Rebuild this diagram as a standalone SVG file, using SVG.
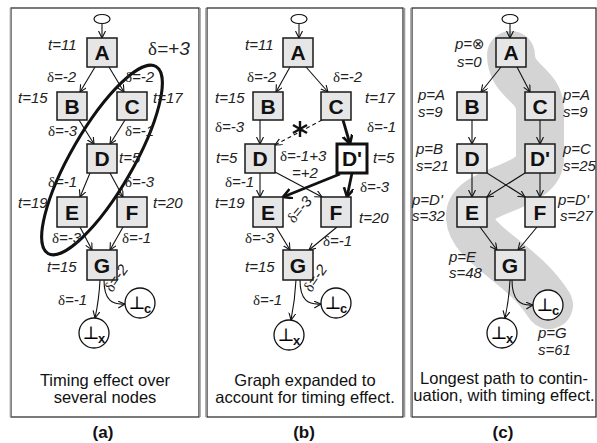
<svg xmlns="http://www.w3.org/2000/svg" width="597" height="443" viewBox="0 0 597 443">
  <style>
    .frame { fill: none; stroke: #222; stroke-width: 1.2; }
    .shade { stroke: #9a9a9a; stroke-width: 1.6; }
    .node { fill: #e6e6e6; stroke: #1a1a1a; stroke-width: 1.5; }
    .nodeT { fill: #ffffff; stroke: #111; stroke-width: 3; }
    .nl { font: bold 21px "Liberation Sans", Arial, sans-serif; text-anchor: middle; fill: #111; }
    .lb { font: italic 15px "Liberation Sans", Arial, sans-serif; fill: #222; }
    .d { font-family: "Liberation Serif", "DejaVu Serif", serif; font-style: normal; }
    .sym { font-family: "DejaVu Sans", sans-serif; font-style: normal; font-size: 15px; }
    .cap { font: 16.5px "Liberation Sans", Arial, sans-serif; text-anchor: middle; fill: #111; }
    .tag { font: bold 17px "Liberation Sans", Arial, sans-serif; text-anchor: middle; fill: #111; }
    .edge { fill: none; stroke: #111; stroke-width: 1.1; marker-end: url(#arr); }
    .thick { stroke-width: 2.8; marker-end: url(#arrT); }
    .dash { stroke-dasharray: 4 3; }
    .start { fill: #fff; stroke: #111; stroke-width: 1.2; }
    .term { fill: #fff; stroke: #111; stroke-width: 1.3; }
    .bot { font: 18px "DejaVu Serif", "Noto Sans CJK JP", serif; text-anchor: middle; fill: #000; }
    .sub { font: bold 13px "Liberation Sans", Arial, sans-serif; fill: #111; }
  </style>
  <defs>
    <marker id="arr" markerUnits="userSpaceOnUse" markerWidth="10" markerHeight="10" refX="7" refY="3.5" orient="auto">
      <path d="M0,0 L7,3.5 L0,7" fill="none" stroke="#111" stroke-width="1.1"/>
    </marker>
    <marker id="arrT" markerUnits="userSpaceOnUse" markerWidth="14" markerHeight="14" refX="9" refY="5" orient="auto">
      <path d="M0,0 L9,5 L0,10" fill="none" stroke="#111" stroke-width="2.6"/>
    </marker>
  </defs>

  <!-- panel frames -->
  <g id="frames">
    <rect class="frame" x="11" y="8" width="188" height="409"/>
    <line class="shade" x1="10.5" y1="8" x2="10.5" y2="417"/>
    <line class="shade" x1="200" y1="8" x2="200" y2="417"/>
    <rect class="frame" x="207" y="8" width="196" height="409"/>
    <line class="shade" x1="206" y1="8" x2="206" y2="417"/>
    <line class="shade" x1="404.5" y1="8" x2="404.5" y2="417"/>
    <rect class="frame" x="412" y="8" width="184" height="409"/>
    <line class="shade" x1="411" y1="8" x2="411" y2="417"/>
  </g>

  <!-- highlighted longest path in panel c -->
  <path id="c-longest" d="M511,55 C511,82 540,84 540,110 L540,158 C540,190 468,188 470,218 C472,246 522,262 549,305" fill="none" stroke="#d4d4d4" stroke-width="48" stroke-linecap="round" stroke-linejoin="round"/>

  <!-- connectors -->
  <g id="connectors">
    <!-- panel a -->
    <path class="edge" d="M102,23.5 L102,38"/>
    <path class="edge" d="M95,67 L80,92"/>
    <path class="edge" d="M109,67 L124,92"/>
    <path class="edge" d="M79,120 L94,144"/>
    <path class="edge" d="M125,120 L110,144"/>
    <path class="edge" d="M90,173 L80,197"/>
    <path class="edge" d="M110,173 L123,197"/>
    <path class="edge" d="M80,227 L92,250"/>
    <path class="edge" d="M123,227 L110,250"/>
    <path class="edge" d="M100,280 Q99,300 95,318"/>
    <path class="edge" d="M104,280 C104,300 112,305 125,304"/>
    <!-- panel b -->
    <path class="edge" d="M299,23.5 L299,38"/>
    <path class="edge" d="M290,67 L276,92"/>
    <path class="edge" d="M306,67 L328,92"/>
    <path class="edge" d="M260,120 L260,144"/>
    <path class="edge dash" d="M322,120 L275,145"/>
    <path class="edge thick" d="M343,120 L350,144"/>
    <path class="edge" d="M260,173 L260,197"/>
    <path class="edge" d="M275,172 L322,197"/>
    <path class="edge thick" d="M340,174 L283,197"/>
    <path class="edge thick" d="M352,173 L347,197"/>
    <path class="edge" d="M276,227 L290,250"/>
    <path class="edge" d="M337,227 L309,250"/>
    <path class="edge" d="M296,280 Q295,300 291,320"/>
    <path class="edge" d="M300,280 C300,300 308,305 321,304"/>
    <!-- cut mark on the removed edge -->
    <g stroke="#111" stroke-width="2.4">
      <line x1="300" y1="121" x2="300" y2="137"/>
      <line x1="293" y1="125" x2="307" y2="133"/>
      <line x1="293" y1="133" x2="307" y2="125"/>
    </g>
    <!-- panel c -->
    <path class="edge" d="M510,23.5 L510,38"/>
    <path class="edge" d="M501,67 L481,92"/>
    <path class="edge" d="M517,67 L530,92"/>
    <path class="edge" d="M472,120 L472,144"/>
    <path class="edge" d="M540,120 L540,144"/>
    <path class="edge" d="M472,173 L472,197"/>
    <path class="edge" d="M487,173 L525,197"/>
    <path class="edge" d="M525,173 L487,197"/>
    <path class="edge" d="M540,173 L540,197"/>
    <path class="edge" d="M480,227 L497,250"/>
    <path class="edge" d="M537,227 L518,250"/>
    <path class="edge" d="M510,280 Q509,300 505,318"/>
    <path class="edge" d="M512,280 C512,300 520,306 533,305"/>
  </g>

  <!-- ===== panel a nodes ===== -->
  <g id="a-start"><ellipse class="start" cx="102" cy="19" rx="8" ry="4.5"/></g>
  <g id="a-A"><rect class="node" x="87" y="38" width="30" height="29"/><text class="nl" x="102" y="60">A</text></g>
  <g id="a-B"><rect class="node" x="57" y="92" width="30" height="28"/><text class="nl" x="72" y="114">B</text></g>
  <g id="a-C"><rect class="node" x="117" y="92" width="30" height="28"/><text class="nl" x="132" y="114">C</text></g>
  <g id="a-D"><rect class="node" x="87" y="144" width="30" height="29"/><text class="nl" x="102" y="166">D</text></g>
  <g id="a-E"><rect class="node" x="57" y="197" width="30" height="30"/><text class="nl" x="72" y="220">E</text></g>
  <g id="a-F"><rect class="node" x="117" y="197" width="30" height="30"/><text class="nl" x="132" y="220">F</text></g>
  <g id="a-G"><rect class="node" x="87" y="250" width="30" height="30"/><text class="nl" x="102" y="273">G</text></g>
  <g id="a-botx"><circle class="term" cx="94" cy="333" r="15"/><text class="bot" x="91" y="339">⊥</text><text class="sub" x="98" y="343">x</text></g>
  <g id="a-botc"><circle class="term" cx="140" cy="303" r="15"/><text class="bot" x="137" y="309">⊥</text><text class="sub" x="144" y="313">c</text></g>

  <!-- grouping loop around C, D, E -->
  <ellipse id="a-loop" cx="102" cy="160" rx="108" ry="31" transform="rotate(120 102 160)" fill="none" stroke="#111" stroke-width="3"/>

  <!-- panel a labels -->
  <g id="a-labels">
    <text class="lb" x="48" y="50">t=11</text>
    <text class="lb" x="148" y="55" style="font-size:19px"><tspan class="d">δ</tspan>=+3</text>
    <text class="lb" x="47" y="82"><tspan class="d">δ</tspan>=-2</text>
    <text class="lb" x="125" y="82"><tspan class="d">δ</tspan>=-2</text>
    <text class="lb" x="18" y="103">t=15</text>
    <text class="lb" x="153" y="103">t=17</text>
    <text class="lb" x="48" y="136"><tspan class="d">δ</tspan>=-3</text>
    <text class="lb" x="125" y="136"><tspan class="d">δ</tspan>=-1</text>
    <text class="lb" x="119" y="163">t=5</text>
    <text class="lb" x="48" y="187"><tspan class="d">δ</tspan>=-1</text>
    <text class="lb" x="125" y="187"><tspan class="d">δ</tspan>=-3</text>
    <text class="lb" x="18" y="208">t=19</text>
    <text class="lb" x="153" y="208">t=20</text>
    <text class="lb" x="52" y="243"><tspan class="d">δ</tspan>=-3</text>
    <text class="lb" x="122" y="243"><tspan class="d">δ</tspan>=-1</text>
    <text class="lb" x="47" y="272">t=15</text>
    <text class="lb" x="0" y="0" transform="translate(112,293) rotate(-55)"><tspan class="d">δ</tspan>=-2</text>
    <text class="lb" x="58" y="305"><tspan class="d">δ</tspan>=-1</text>
    <text class="cap" x="105" y="386">Timing effect over</text>
    <text class="cap" x="105" y="403">several nodes</text>
    <text class="tag" x="103" y="438">(a)</text>
  </g>

  <!-- ===== panel b nodes ===== -->
  <g id="b-start"><ellipse class="start" cx="299" cy="19" rx="8" ry="4.5"/></g>
  <g id="b-A"><rect class="node" x="283" y="38" width="30" height="29"/><text class="nl" x="298" y="60">A</text></g>
  <g id="b-B"><rect class="node" x="253" y="92" width="30" height="28"/><text class="nl" x="268" y="114">B</text></g>
  <g id="b-C"><rect class="node" x="321" y="92" width="30" height="28"/><text class="nl" x="336" y="114">C</text></g>
  <g id="b-D"><rect class="node" x="245" y="144" width="30" height="29"/><text class="nl" x="260" y="166">D</text></g>
  <g id="b-Dp"><rect class="nodeT" x="337" y="144" width="30" height="29"/><text class="nl" x="352" y="166">D'</text></g>
  <g id="b-E"><rect class="node" x="253" y="197" width="30" height="30"/><text class="nl" x="268" y="220">E</text></g>
  <g id="b-F"><rect class="node" x="321" y="197" width="30" height="30"/><text class="nl" x="336" y="220">F</text></g>
  <g id="b-G"><rect class="node" x="283" y="250" width="30" height="30"/><text class="nl" x="298" y="273">G</text></g>
  <g id="b-botx"><circle class="term" cx="289" cy="335" r="15"/><text class="bot" x="286" y="341">⊥</text><text class="sub" x="293" y="345">x</text></g>
  <g id="b-botc"><circle class="term" cx="336" cy="303" r="15"/><text class="bot" x="333" y="309">⊥</text><text class="sub" x="340" y="313">c</text></g>

  <!-- panel b labels -->
  <g id="b-labels">
    <text class="lb" x="245" y="50">t=11</text>
    <text class="lb" x="247" y="82"><tspan class="d">δ</tspan>=-2</text>
    <text class="lb" x="333" y="82"><tspan class="d">δ</tspan>=-2</text>
    <text class="lb" x="215" y="103">t=15</text>
    <text class="lb" x="365" y="103">t=17</text>
    <text class="lb" x="215" y="132"><tspan class="d">δ</tspan>=-3</text>
    <text class="lb" x="367" y="132"><tspan class="d">δ</tspan>=-1</text>
    <text class="lb" x="216" y="163">t=5</text>
    <text class="lb" x="280" y="161"><tspan class="d">δ</tspan>=-1+3</text>
    <text class="lb" x="292" y="178">=+2</text>
    <text class="lb" x="373" y="163">t=5</text>
    <text class="lb" x="225" y="187"><tspan class="d">δ</tspan>=-1</text>
    <text class="lb" x="360" y="192"><tspan class="d">δ</tspan>=-3</text>
    <text class="lb" x="215" y="208">t=19</text>
    <text class="lb" x="0" y="0" transform="translate(294,224) rotate(-50)"><tspan class="d">δ</tspan>=-3</text>
    <text class="lb" x="359" y="223">t=20</text>
    <text class="lb" x="245" y="243"><tspan class="d">δ</tspan>=-3</text>
    <text class="lb" x="323" y="246"><tspan class="d">δ</tspan>=-1</text>
    <text class="lb" x="245" y="272">t=15</text>
    <text class="lb" x="0" y="0" transform="translate(311,293) rotate(-55)"><tspan class="d">δ</tspan>=-2</text>
    <text class="lb" x="253" y="305"><tspan class="d">δ</tspan>=-1</text>
    <text class="cap" x="305" y="386">Graph expanded to</text>
    <text class="cap" x="305" y="403">account for timing effect.</text>
    <text class="tag" x="304" y="438">(b)</text>
  </g>

  <!-- ===== panel c nodes ===== -->
  <g id="c-start"><ellipse class="start" cx="510" cy="19" rx="8" ry="4.5"/></g>
  <g id="c-A"><rect class="node" x="496" y="38" width="30" height="29"/><text class="nl" x="511" y="60">A</text></g>
  <g id="c-B"><rect class="node" x="457" y="92" width="30" height="28"/><text class="nl" x="472" y="114">B</text></g>
  <g id="c-C"><rect class="node" x="525" y="92" width="30" height="28"/><text class="nl" x="540" y="114">C</text></g>
  <g id="c-D"><rect class="node" x="457" y="144" width="30" height="29"/><text class="nl" x="472" y="166">D</text></g>
  <g id="c-Dp"><rect class="node" x="525" y="144" width="30" height="29"/><text class="nl" x="540" y="166">D'</text></g>
  <g id="c-E"><rect class="node" x="457" y="197" width="30" height="30"/><text class="nl" x="472" y="220">E</text></g>
  <g id="c-F"><rect class="node" x="525" y="197" width="30" height="30"/><text class="nl" x="540" y="220">F</text></g>
  <g id="c-G"><rect class="node" x="495" y="250" width="30" height="30"/><text class="nl" x="510" y="273">G</text></g>
  <g id="c-botx"><circle class="term" cx="502" cy="333" r="15"/><text class="bot" x="499" y="339">⊥</text><text class="sub" x="506" y="343">x</text></g>
  <g id="c-botc"><circle class="term" cx="548" cy="305" r="15"/><text class="bot" x="545" y="311">⊥</text><text class="sub" x="552" y="315">c</text></g>

  <!-- panel c labels -->
  <g id="c-labels">
    <text class="lb" x="455" y="49">p=<tspan class="sym">⊗</tspan></text>
    <text class="lb" x="457" y="67">s=0</text>
    <text class="lb" x="418" y="100">p=A</text>
    <text class="lb" x="418" y="117">s=9</text>
    <text class="lb" x="563" y="100">p=A</text>
    <text class="lb" x="563" y="117">s=9</text>
    <text class="lb" x="416" y="154">p=B</text>
    <text class="lb" x="416" y="171">s=21</text>
    <text class="lb" x="563" y="154">p=C</text>
    <text class="lb" x="563" y="171">s=25</text>
    <text class="lb" x="412" y="205">p=D'</text>
    <text class="lb" x="412" y="221">s=32</text>
    <text class="lb" x="558" y="205">p=D'</text>
    <text class="lb" x="560" y="221">s=27</text>
    <text class="lb" x="449" y="262">p=E</text>
    <text class="lb" x="449" y="278">s=48</text>
    <text class="lb" x="538" y="338">p=G</text>
    <text class="lb" x="538" y="355">s=61</text>
    <text class="cap" x="504" y="384">Longest path to contin-</text>
    <text class="cap" x="504" y="401">uation, with timing effect.</text>
    <text class="tag" x="503" y="438">(c)</text>
  </g>
</svg>
